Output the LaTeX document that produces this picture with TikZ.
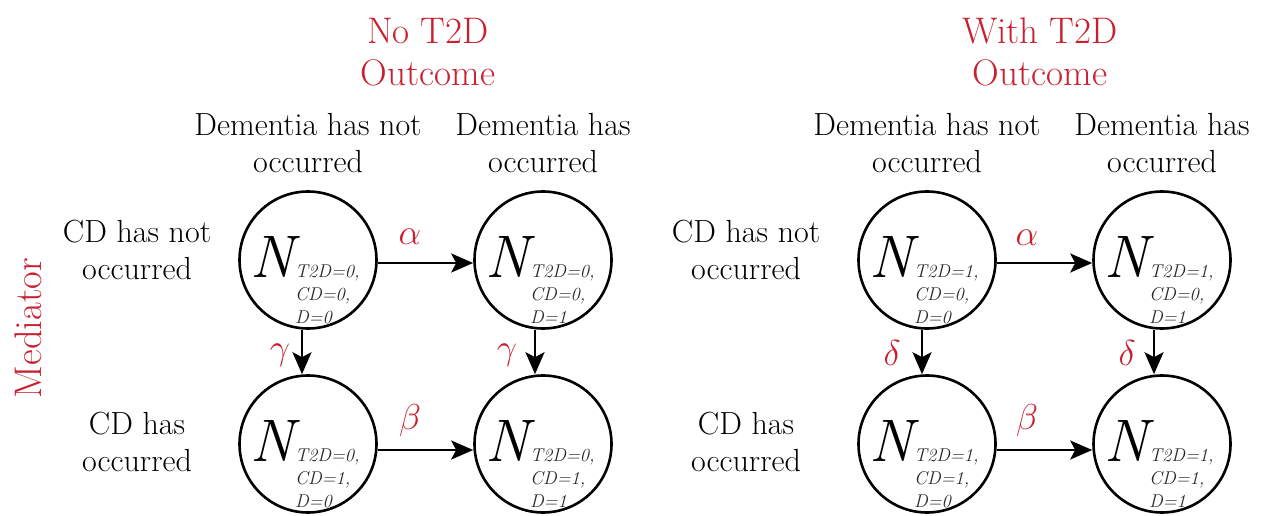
\RequirePackage{fix-cm}
\documentclass[tikz,border=0pt]{standalone}
\usepackage{fontspec}
\usetikzlibrary{arrows.meta}
\definecolor{tred}{RGB}{200,32,48}
\definecolor{subgray}{RGB}{40,40,40}
\newcommand{\mystate}[6]{%
  \node[state] (#1) at (#2,#3) {};
  \node[bigN] (#1N) at (#2-58,#3+17) {N};
  \node[subtxt] (#1s1) at (#2-13,#3+17) {T2D=#4,};
  \node[subtxt] (#1s2) at (#2-13,#3+40) {CD=#5,};
  \node[subtxt] (#1s3) at (#2-13,#3+63) {D=#6};
}
\begin{document}
\begin{tikzpicture}[x=1pt,y=-1pt,
  state/.style={circle, draw, line width=2.6pt, minimum size=137pt, inner sep=0pt},
  bodytext/.style={align=center, inner sep=0pt, font=\fontsize{32}{37}\selectfont},
  titletext/.style={align=center, inner sep=0pt, text=tred, font=\fontsize{37}{42}\selectfont},
  medtext/.style={inner sep=0pt, text=tred, font=\fontsize{38.5}{42}\selectfont},
  bigN/.style={anchor=base west, inner sep=0pt, font=\fontsize{60}{60}\selectfont\itshape},
  subtxt/.style={anchor=base west, inner sep=0pt, text=subgray, font=\fontsize{18.5}{21}\selectfont\itshape},
  arr/.style={line width=2.5pt, -{Stealth[length=22pt,width=19pt,inset=5pt]}},
  glabel/.style={inner sep=0pt, text=tred, font=\fontsize{36}{36}\selectfont},
]
\useasboundingbox (0,0) rectangle (1266,516);

% ---------- left panel ----------
\node[titletext] (t1) at (428,52) {No T2D\\Outcome};
\node[bodytext] (h1) at (308,143) {Dementia has not\\occurred};
\node[bodytext] (h2) at (543,143) {Dementia has\\occurred};
\node[bodytext] (r1) at (137,250) {CD has not\\occurred};
\node[bodytext] (r2) at (137,442) {CD has\\occurred};
\node[medtext, rotate=90] (med) at (28,328) {Mediator};

\mystate{a}{308}{260}{0}{0}{0}
\mystate{b}{543}{260}{0}{0}{1}
\mystate{c}{308}{444}{0}{1}{0}
\mystate{d}{543}{444}{0}{1}{1}

\draw[arr] ([yshift=-3pt]a.east) -- ([yshift=-3pt]b.west);
\draw[arr] ([yshift=-6pt]c.east) -- ([yshift=-6pt]d.west);
\draw[arr] ([xshift=-6pt]a.south) -- ([xshift=-6pt]c.north);
\draw[arr] ([xshift=-8pt]b.south) -- ([xshift=-8pt]d.north);
\node[glabel] (la1) at (410,237) {$\alpha$};
\node[glabel] (lb1) at (410,420) {$\beta$};
\node[glabel] (lg1) at (280,355) {$\gamma$};
\node[glabel] (lg2) at (507,355) {$\gamma$};

% ---------- right panel ----------
\node[titletext] (t2) at (1040,52) {With T2D\\Outcome};
\node[bodytext] (h3) at (927,143) {Dementia has not\\occurred};
\node[bodytext] (h4) at (1162,143) {Dementia has\\occurred};
\node[bodytext] (r3) at (746,250) {CD has not\\occurred};
\node[bodytext] (r4) at (746,442) {CD has\\occurred};

\mystate{e}{927}{260}{1}{0}{0}
\mystate{f}{1162}{260}{1}{0}{1}
\mystate{g}{927}{444}{1}{1}{0}
\mystate{h}{1162}{444}{1}{1}{1}

\draw[arr] ([yshift=-3pt]e.east) -- ([yshift=-3pt]f.west);
\draw[arr] ([yshift=-6pt]g.east) -- ([yshift=-6pt]h.west);
\draw[arr] ([xshift=-5pt]e.south) -- ([xshift=-5pt]g.north);
\draw[arr] ([xshift=-8pt]f.south) -- ([xshift=-8pt]h.north);
\node[glabel] (la2) at (1027,238) {$\alpha$};
\node[glabel] (lb2) at (1027,420) {$\beta$};
\node[glabel] (ld1) at (892,353) {$\delta$};
\node[glabel] (ld2) at (1127,353) {$\delta$};
\end{tikzpicture}
\end{document}
